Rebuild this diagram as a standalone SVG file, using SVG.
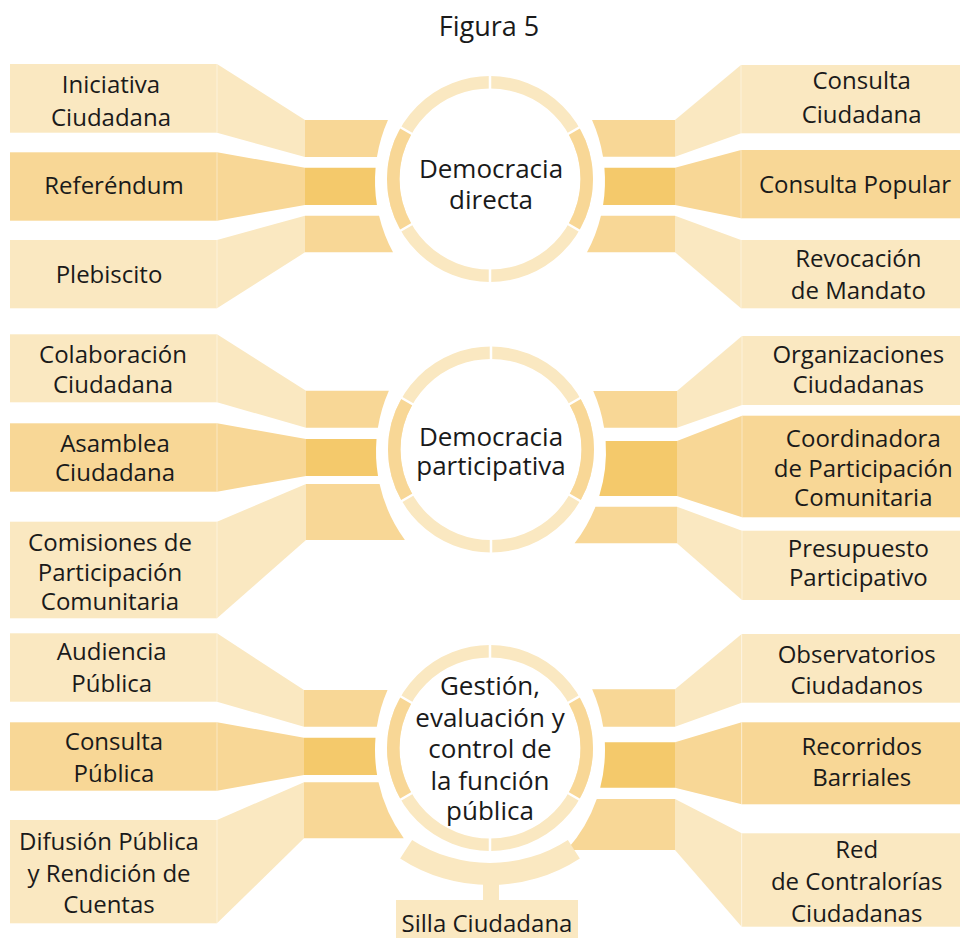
<svg xmlns="http://www.w3.org/2000/svg" xmlns:xlink="http://www.w3.org/1999/xlink" width="960" height="938" viewBox="0 0 960 938">
<style>
.l{fill:#FAE8C1}
.m{fill:#F8D796}
.d{fill:#F4C96B}
.t{font-family:"Open Sans","Noto Sans","Liberation Sans",sans-serif;font-size:24px;fill:#1a1a1a;text-anchor:middle}
.c{font-size:26px}
.seam{stroke:#fff;stroke-opacity:.55;stroke-width:.8;fill:none}
</style>
<defs>
<g id="ring">
<circle r="96.75" fill="none" stroke="#FAE8C1" stroke-width="12.5"/>
<path d="M83.79,-48.375 A96.75,96.75 0 0,1 83.79,48.375 M-83.79,48.375 A96.75,96.75 0 0,1 -83.79,-48.375" fill="none" stroke="#F8D796" stroke-width="12.5"/>
<path d="M0,-88 V-106 M0,88 V106 M76.2,-44 L91.8,-53 M76.2,44 L91.8,53 M-76.2,-44 L-91.8,-53 M-76.2,44 L-91.8,53" stroke="#fff" stroke-width="2.5"/>
</g>
</defs>
<rect width="960" height="938" fill="#fff"/>
<text class="t" x="489" y="36" style="font-size:27px">Figura 5</text>

<g id="connectors">
<path class="l" d="M217,64 L305,120 L305,157 L217,132.7 Z"/>
<path class="m" d="M305,120 H387.96 A150,150 0 0,0 376.93,157 H305 Z"/>
<path class="m" d="M217,152.3 L305,167.7 L305,205 L217,220.7 Z"/>
<path class="d" d="M305,167.7 H375.59 A150,150 0 0,0 376.93,205 H305 Z"/>
<path class="l" d="M217,240 L305,215.7 L305,252.3 L217,308.3 Z"/>
<path class="m" d="M305,215.7 H379.07 A150,150 0 0,0 393.03,252.3 H305 Z"/>
<path class="l" d="M741,65 L675,120 L675,156.7 L741,133.3 Z"/>
<path class="m" d="M675,120 H592.04 A150,150 0 0,1 603.02,156.7 H675 Z"/>
<path class="m" d="M741,150 L675,167.7 L675,205 L741,218.3 Z"/>
<path class="d" d="M675,167.7 H604.41 A150,150 0 0,1 603.07,205 H675 Z"/>
<path class="l" d="M741,240 L675,215.7 L675,252.3 L741,308.3 Z"/>
<path class="m" d="M675,215.7 H600.93 A150,150 0 0,1 586.97,252.3 H675 Z"/>

<path class="l" d="M217,334.3 L306,390.7 L306,427.7 L217,402.3 Z"/>
<path class="m" d="M306,390.7 H388.87 A150,150 0 0,0 377.90,427.7 H306 Z"/>
<path class="m" d="M217,423.3 L306,439 L306,476 L217,491.7 Z"/>
<path class="d" d="M306,439 H376.52 A150,150 0 0,0 378.01,476 H306 Z"/>
<path class="l" d="M217,521.7 L306,484 L306,540 L217,618.3 Z"/>
<path class="m" d="M306,484 H379.56 A150,150 0 0,0 404.89,540 H306 Z"/>
<path class="l" d="M742,336 L677,391 L677,427.7 L742,405 Z"/>
<path class="m" d="M677,391 H593.26 A150,150 0 0,1 604.10,427.7 H677 Z"/>
<path class="m" d="M742,415.7 L677,441 L677,496 L742,517.3 Z"/>
<path class="d" d="M677,441 H605.63 A150,150 0 0,1 599.25,496 H677 Z"/>
<path class="l" d="M742,530.7 L677,506.7 L677,543.3 L742,600 Z"/>
<path class="m" d="M677,506.7 H595.47 A150,150 0 0,1 574.63,543.3 H677 Z"/>

<path class="l" d="M217,633.3 L304,690 L304,726.7 L217,701.7 Z"/>
<path class="m" d="M304,690 H387.52 A150,150 0 0,0 376.82,726.7 H304 Z"/>
<path class="m" d="M217,722.3 L304,737.7 L304,775 L217,790.7 Z"/>
<path class="d" d="M304,737.7 H375.51 A150,150 0 0,0 377.10,775 H304 Z"/>
<path class="l" d="M217,820 L304,782.3 L304,838.3 L217,923.3 Z"/>
<path class="m" d="M304,782.3 H378.52 A150,150 0 0,0 403.74,838.3 H304 Z"/>
<path class="l" d="M741.7,634 L675,689.3 L675,726.7 L741.7,702.7 Z"/>
<path class="m" d="M675,689.3 H592.17 A150,150 0 0,1 603.18,726.7 H675 Z"/>
<path class="m" d="M741.7,722.3 L675,742.3 L675,787.7 L741.7,804.3 Z"/>
<path class="d" d="M675,742.3 H604.80 A150,150 0 0,1 600.19,787.7 H675 Z"/>
<path class="l" d="M741.7,833.3 L675,799 L675,850 L741.7,926.7 Z"/>
<path class="m" d="M675,799 H596.77 A150,150 0 0,1 566.80,850 H675 Z"/>

<path class="l" d="M579.86,858.39 A165,165 0 0,1 400.14,858.39 L412.12,839.93 A143,143 0 0,0 567.88,839.93 Z"/>
<rect class="l" x="483" y="883" width="16" height="18"/>
</g>

<g id="circle-directa">
<use href="#ring" transform="translate(490,179)"/>
<text class="t c" x="491" y="178">Democracia</text>
<text class="t c" x="491" y="209">directa</text>
</g>
<g id="circle-participativa">
<use href="#ring" transform="translate(491,449.5)"/>
<text class="t c" x="491" y="446">Democracia</text>
<text class="t c" x="491" y="475">participativa</text>
</g>
<g id="circle-gestion">
<use href="#ring" transform="translate(490,748)"/>
<text class="t c" x="490" y="695">Gestión,</text>
<text class="t c" x="490" y="726.7">evaluación y</text>
<text class="t c" x="490" y="758.3">control de</text>
<text class="t c" x="490" y="790">la función</text>
<text class="t c" x="490" y="820">pública</text>
</g>

<g id="iniciativa"><rect class="l" x="10" y="64" width="207" height="68.7"/><text class="t" x="111" y="92.7">Iniciativa</text><text class="t" x="111" y="126">Ciudadana</text></g>
<g id="referendum"><rect class="m" x="10" y="152.3" width="207" height="68.4"/><text class="t" x="114" y="194">Referéndum</text></g>
<g id="plebiscito"><rect class="l" x="10" y="240" width="207" height="68.3"/><text class="t" x="109" y="283.3">Plebiscito</text></g>
<g id="consulta-ciudadana"><rect class="l" x="741" y="65" width="219" height="68.3"/><text class="t" x="861.7" y="89.3">Consulta</text><text class="t" x="861.7" y="122.7">Ciudadana</text></g>
<g id="consulta-popular"><rect class="m" x="741" y="150" width="219" height="68.3"/><text class="t" x="855" y="193.3">Consulta Popular</text></g>
<g id="revocacion"><rect class="l" x="741" y="240" width="219" height="68.3"/><text class="t" x="858.3" y="266.7">Revocación</text><text class="t" x="858.3" y="299.3">de Mandato</text></g>

<g id="colaboracion"><rect class="l" x="10" y="334.3" width="207" height="68"/><text class="t" x="113" y="363.3">Colaboración</text><text class="t" x="113" y="393.3">Ciudadana</text></g>
<g id="asamblea"><rect class="m" x="10" y="423.3" width="207" height="68.4"/><text class="t" x="115" y="451.7">Asamblea</text><text class="t" x="115" y="481">Ciudadana</text></g>
<g id="comisiones"><rect class="l" x="10" y="521.7" width="207" height="96.6"/><text class="t" x="110" y="551">Comisiones de</text><text class="t" x="110" y="581">Participación</text><text class="t" x="110" y="610">Comunitaria</text></g>
<g id="organizaciones"><rect class="l" x="742" y="336" width="218" height="69"/><text class="t" x="858.3" y="363.3">Organizaciones</text><text class="t" x="858.3" y="393.3">Ciudadanas</text></g>
<g id="coordinadora"><rect class="m" x="742" y="415.7" width="218" height="101.6"/><text class="t" x="863.3" y="446.7">Coordinadora</text><text class="t" x="863.3" y="476.7">de Participación</text><text class="t" x="863.3" y="506">Comunitaria</text></g>
<g id="presupuesto"><rect class="l" x="742" y="530.7" width="218" height="69.3"/><text class="t" x="858.3" y="556.7">Presupuesto</text><text class="t" x="858.3" y="586">Participativo</text></g>

<g id="audiencia"><rect class="l" x="10" y="633.3" width="207" height="68.4"/><text class="t" x="111.7" y="660">Audiencia</text><text class="t" x="111.7" y="691.7">Pública</text></g>
<g id="consulta-publica"><rect class="m" x="10" y="722.3" width="207" height="68.4"/><text class="t" x="114" y="750">Consulta</text><text class="t" x="114" y="781.7">Pública</text></g>
<g id="difusion"><rect class="l" x="10" y="820" width="207" height="103.3"/><text class="t" x="109" y="850">Difusión Pública</text><text class="t" x="109" y="881.7">y Rendición de</text><text class="t" x="109" y="913.3">Cuentas</text></g>
<g id="observatorios"><rect class="l" x="741.7" y="634" width="218.3" height="68.7"/><text class="t" x="856.7" y="663.3">Observatorios</text><text class="t" x="856.7" y="694">Ciudadanos</text></g>
<g id="recorridos"><rect class="m" x="741.7" y="722.3" width="218.3" height="82"/><text class="t" x="861.7" y="755">Recorridos</text><text class="t" x="861.7" y="786">Barriales</text></g>
<g id="red-contralorias"><rect class="l" x="741.7" y="833.3" width="218.3" height="93.4"/><text class="t" x="856.7" y="858.3">Red</text><text class="t" x="856.7" y="890">de Contralorías</text><text class="t" x="856.7" y="921.7">Ciudadanas</text></g>
<g id="silla-ciudadana"><rect class="l" x="396" y="900" width="182" height="38"/><text class="t" x="487" y="931.7">Silla Ciudadana</text></g>

<g id="seams">
<path class="seam" d="M217,64 V132.7 M217,152.3 V220.7 M217,240 V308.3 M741,65 V133.3 M741,150 V218.3 M741,240 V308.3 M217,334.3 V402.3 M217,423.3 V491.7 M217,521.7 V618.3 M742,336 V405 M742,415.7 V517.3 M742,530.7 V600 M217,633.3 V701.7 M217,722.3 V790.7 M217,820 V923.3 M741.7,634 V702.7 M741.7,722.3 V804.3 M741.7,833.3 V926.7"/>
</g>
</svg>
